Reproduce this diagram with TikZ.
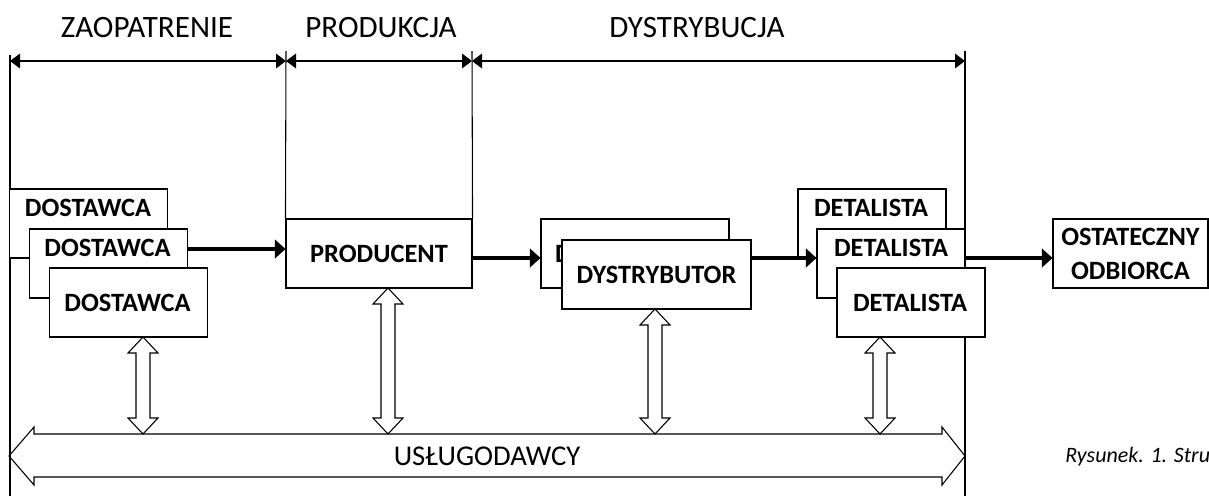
\documentclass[tikz,border=0pt]{standalone}
\usepackage{fontspec}
\setmainfont{Carlito}
\usetikzlibrary{arrows.meta}
\tikzset{
  box/.style={draw, fill=white, line width=0.8pt, inner sep=0pt},
  blbl/.style={font=\bfseries\fontsize{19.8}{23}\selectfont, inner sep=0pt},
  hdr/.style={font=\fontsize{23.3}{27}\selectfont, inner sep=0pt},
  dim/.style={line width=0.8pt, {Triangle[length=7.5pt,width=11pt]}-{Triangle[length=7.5pt,width=11pt]}},
  flow/.style={line width=2.4pt, -{Triangle[length=8pt,width=14pt]}},
  vline/.style={line width=0.8pt},
  hollow/.style={draw, line width=0.8pt, line join=miter},
}
\newcommand\vdarrow[3]{%
  \draw[hollow] (#1,#2) -- ({#1+15},{#2+16}) -- ({#1+7},{#2+16}) -- ({#1+7},{#3-16}) -- ({#1+15},{#3-16})
   -- (#1,#3) -- ({#1-15},{#3-16}) -- ({#1-7},{#3-16}) -- ({#1-7},{#2+16}) -- ({#1-15},{#2+16}) -- cycle;}
\begin{document}
\begin{tikzpicture}[x=0.75pt,y=-0.75pt]
\useasboundingbox (0,0) rectangle (1209,496);
\clip (0,0) rectangle (1209,496);
% headers
\node[hdr] (hz) at (147,27.5) {ZAOPATRENIE};
\node[hdr] (hp) at (381,27.5) {PRODUKCJA};
\node[hdr] (hd) at (697,27.5) {DYSTRYBUCJA};
% vertical division lines
\coordinate (l0t) at (10,55);   \coordinate (l0b) at (10,496);
\coordinate (l1t) at (286,51);  \coordinate (l2t) at (472,51);
\coordinate (l3t) at (965,51);  \coordinate (l3b) at (965,496);
\draw[vline] (l0t) -- (l0b);
\draw[vline] (l3t) -- (l3b);
% dimension arrows
\coordinate (d0) at (10,61); \coordinate (d1) at (286,61);
\coordinate (d2) at (472,61); \coordinate (d3) at (965,61);
\draw[dim] (d0) -- (d1);
\draw[dim] (d1) -- (d2);
\draw[dim] (d2) -- (d3);
% producer
\node[box, minimum width=139.5pt, minimum height=51.75pt, font=\bfseries\fontsize{19.8}{23}\selectfont] (prod) at (379,253.5) {PRODUCENT};
\draw[vline] (l1t) -- (prod.north west);
\draw[vline] (l2t) -- (prod.north east);
% suppliers
\node[box, minimum width=118.5pt, minimum height=51.75pt] (s1) at (88.5,223.5) {};
\node[blbl] (s1t) at (88,208) {DOSTAWCA};
\node[box, minimum width=118.5pt, minimum height=51.75pt] (s2) at (108.5,263.5) {};
\node[blbl] (s2t) at (107.5,248) {DOSTAWCA};
\node[box, minimum width=118.5pt, minimum height=51.75pt] (s3) at (128.5,302.5) {};
\node[blbl] (s3t) at (127.5,303) {DOSTAWCA};
% distributors
\node[box, minimum width=141pt, minimum height=51.75pt, font=\bfseries\fontsize{19.8}{23}\selectfont] (db) at (635,253.5) {DYSTRYBUTOR};
\node[box, minimum width=141.75pt, minimum height=51.75pt, font=\bfseries\fontsize{19.8}{23}\selectfont] (df) at (656.5,274.5) {DYSTRYBUTOR};
% retailers
\node[box, minimum width=111pt, minimum height=51.75pt] (r1) at (872,223.5) {};
\node[blbl] (r1t) at (871,208) {DETALISTA};
\node[box, minimum width=111pt, minimum height=51.75pt] (r2) at (891,263.5) {};
\node[blbl] (r2t) at (891,248) {DETALISTA};
\node[box, minimum width=111pt, minimum height=51.75pt] (r3) at (911,302.5) {};
\node[blbl] (r3t) at (910,303) {DETALISTA};
% final customer
\node[box, minimum width=116.25pt, minimum height=51.75pt, align=center, font=\bfseries\fontsize{19.8}{25.5}\selectfont] (fin) at (1130.5,253.5) {OSTATECZNY\\ODBIORCA};
% flow arrows
\draw[flow] (s2.east |- 0,249) -- (prod.west |- 0,249);
\draw[flow] (prod.east |- 0,258) -- (db.west |- 0,258);
\draw[flow] (df.east |- 0,258) -- (r2.west |- 0,258);
\draw[flow] (r2.east |- 0,258) -- (fin.west |- 0,258);
% service providers arrow
\draw[hollow] (9,456) -- (34,427) -- (34,434) -- (942,434) -- (942,427) -- (965,456)
  -- (942,485) -- (942,477) -- (34,477) -- (34,485) -- cycle;
\node[font=\fontsize{21.5}{25}\selectfont, inner sep=0pt] (usl) at (487,456) {USŁUGODAWCY};
% vertical links
\vdarrow{143}{337}{434}
\vdarrow{388}{288}{434}
\vdarrow{655}{309}{434}
\vdarrow{880}{337}{434}
% caption
\node[font=\itshape\fontsize{16.5}{19}\selectfont, inner sep=0pt, anchor=base west] (cap) at (1065,462) {Rysunek. 1. Stru};
\end{tikzpicture}
\end{document}
